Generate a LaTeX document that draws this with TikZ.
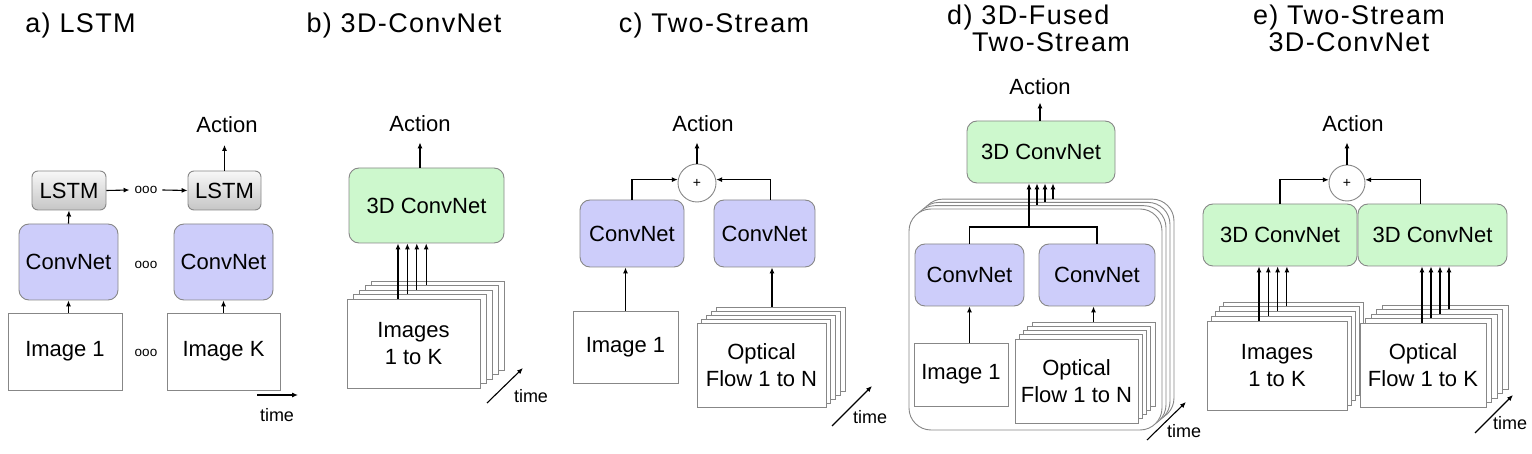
\documentclass[tikz,border=0pt]{standalone}
\usepackage{fontspec}
\setmainfont{Liberation Sans}
\newfontfamily\titlefont{Liberation Sans}[LetterSpace=5]
\usetikzlibrary{positioning,arrows.meta,calc}
\definecolor{netblue}{RGB}{205,205,250}
\definecolor{netgreen}{RGB}{205,248,205}
\definecolor{edgegray}{RGB}{135,135,135}
\tikzset{
    >={Latex[length=6pt,width=5pt]},
    arr/.style = {->, line width=1.1pt},
    paneltitle/.style = {font=\titlefont\fontsize{27}{27.5}\selectfont, anchor=base, inner sep=0pt},
    lbl/.style = {font=\fontsize{22}{27}\selectfont, anchor=base, inner sep=0pt},
    timelbl/.style = {font=\fontsize{18}{20}\selectfont, inner sep=0pt},
    ellip/.style = {font=\fontsize{13.5}{14}\selectfont, inner sep=5pt},
    net/.style = {draw=edgegray, line width=0.9pt, rounded corners=10pt,
                  font=\fontsize{22}{27}\selectfont, align=center},
    convnet/.style = {net, fill=netblue},
    conv3d/.style = {net, fill=netgreen},
    lstm/.style = {net, rounded corners=6pt, top color=gray!6, bottom color=gray!45},
    imgbox/.style = {draw=edgegray, line width=0.9pt, fill=white,
                     font=\fontsize{22}{27}\selectfont, align=center},
    bigbox/.style = {draw=edgegray, line width=0.9pt, fill=white, rounded corners=22pt},
    sumnode/.style = {circle, draw=edgegray, line width=0.9pt, fill=white,
                      minimum size=38pt, inner sep=0pt, font=\fontsize{14}{14}\selectfont},
}
\begin{document}
\begin{tikzpicture}[x=1pt, y=-1pt]
\useasboundingbox (0,0) rectangle (1532,454);

% a) LSTM
\node[paneltitle] (titA) at (80.5,33) {a) LSTM};
\node[imgbox, minimum width=114pt, minimum height=77pt] (imgA) at (65,351.5) {Image 1};
\node[imgbox, minimum width=113pt, minimum height=77pt] (imgK) at (223.5,351.5) {Image K};
\node[convnet, minimum width=99pt, minimum height=76pt] (convA) at (68.5,262) {ConvNet};
\node[convnet, minimum width=99pt, minimum height=76pt] (convK) at (223.5,262) {ConvNet};
\node[lstm, minimum width=74pt, minimum height=39pt] (lstmA) at (69,190.5) {LSTM};
\node[lstm, minimum width=73pt, minimum height=39pt] (lstmK) at (224.5,190.5) {LSTM};
\node[ellip] (dotsI) at (146,353) {ooo};
\node[ellip] (dotsC) at (146,265) {ooo};
\node[ellip] (dotsL) at (146,190) {ooo};
\node[lbl] (actA) at (227,132.5) {Action};
\draw[arr] (convA.south |- imgA.north) -- (convA.south);
\draw[arr] (convK.south |- imgK.north) -- (convK.south);
\draw[arr] (convA.north) -- (lstmA.south);
\draw[arr] (lstmA.east) -- (dotsL.west);
\draw[arr] (dotsL.east) -- (lstmK.west);
\draw[arr, shorten >=12pt] (lstmK.north) -- (lstmK.north |- actA.south);
\coordinate (tA0) at (257,395);
\coordinate (tA1) at (298,395);
\draw[arr] (tA0) -- (tA1);
\node[timelbl] (tAl) at (277,415) {time};

% b) 3D-ConvNet
\node[paneltitle] (titB) at (404,33) {b) 3D-ConvNet};
\node[lbl] (actB) at (420,132) {Action};
\node[conv3d, minimum width=155pt, minimum height=75pt] (conv3B) at (426.5,205.5) {3D ConvNet};
\foreach \i in {4,3,2,1}
    \node[imgbox, minimum width=133pt, minimum height=89pt] (bS\i) at (413.5+6*\i, 343.5-4.5*\i) {};
\node[imgbox, minimum width=133pt, minimum height=89pt] (bS0) at (413.5,343.5) {Images\\1 to K};
\foreach \i in {0,...,3}
    \draw[arr] ([xshift={3.4*\i-15.5}]bS\i.north) coordinate (bT) -- (bT |- conv3B.south);
\draw[arr, shorten >=10pt] (conv3B.north -| actB.south) -- (actB.south);
\coordinate (tB0) at (487,403);
\coordinate (tB1) at (523,368);
\draw[arr] (tB0) -- (tB1);
\node[timelbl] (tBl) at (531,396) {time};

% c) Two-Stream
\node[paneltitle] (titC) at (714,33) {c) Two-Stream};
\node[lbl] (actC) at (703,132) {Action};
\node[sumnode] (sumC) at (697,183) {+};
\node[convnet, minimum width=104pt, minimum height=67pt] (convC1) at (632,233.5) {ConvNet};
\node[convnet, minimum width=101pt, minimum height=67pt] (convC2) at (764.5,233.5) {ConvNet};
\node[imgbox, minimum width=105pt, minimum height=72pt] (imgC) at (625.5,347) {Image 1};
\foreach \i in {4,3,2,1}
    \node[imgbox, minimum width=129pt, minimum height=84pt] (fC\i) at (761.5+4.75*\i, 365-4*\i) {};
\node[imgbox, minimum width=129pt, minimum height=84pt] (fC0) at (761.5,365) {Optical\\Flow 1 to N};
\draw[arr, shorten >=10pt] (sumC.north) -- (sumC.north |- actC.south);
\draw[arr] (convC1.north) |- (sumC.170);
\draw[arr] ([xshift=6pt]convC2.north) |- (sumC.10);
\draw[arr] (imgC.north) -- (imgC.north |- convC1.south);
\draw[arr] ([xshift=-8.5pt]fC4.north) coordinate (cT) -- (cT |- convC2.south);
\coordinate (tC0) at (832,426);
\coordinate (tC1) at (872,386);
\draw[arr] (tC0) -- (tC1);
\node[timelbl] (tCl) at (870,417) {time};

% d) 3D-Fused Two-Stream
\node[paneltitle, align=left, anchor=base west] (titD) at (947,52) {d) 3D-Fused\\\hspace*{25pt}Two-Stream};
\node[lbl] (actD) at (1040,95) {Action};
\node[conv3d, minimum width=148pt, minimum height=62pt] (conv3D) at (1041,152) {3D ConvNet};
\foreach \i in {3,2,1,0}
    \node[bigbox, minimum width=253pt, minimum height=221pt] (dL\i) at (1035.5+4*\i, 319.5-3.3*\i) {};
\node[convnet, minimum width=109pt, minimum height=62pt] (convD1) at (969.5,275) {ConvNet};
\node[convnet, minimum width=116pt, minimum height=62pt] (convD2) at (1097,275) {ConvNet};
\node[imgbox, minimum width=94pt, minimum height=63pt] (imgD) at (961,374.5) {Image 1};
\foreach \i in {4,3,2,1}
    \node[imgbox, minimum width=123pt, minimum height=84pt] (fD\i) at (1076.5+4.25*\i, 381-4.25*\i) {};
\node[imgbox, minimum width=123pt, minimum height=84pt] (fD0) at (1076.5,381) {Optical\\Flow 1 to N};
\coordinate (jD) at (1029,227);
\draw[line width=1.1pt] (convD1.north) |- (jD) -| (convD2.north);
\draw[arr] (jD) -- (jD |- conv3D.south);
\foreach \i in {1,2,3}
    \draw[arr] ([xshift={4*\i-6.5}]dL\i.north) coordinate (dT) -- (dT |- conv3D.south);
\draw[arr, shorten >=7pt] (conv3D.north -| actD.south) -- (actD.south);
\draw[arr] (imgD.north -| convD1.south) -- (convD1.south);
\draw[arr] (fD4.north) -- (fD4.north |- convD2.south);
\coordinate (tD0) at (1147,440);
\coordinate (tD1) at (1186,402);
\draw[arr] (tD0) -- (tD1);
\node[timelbl] (tDl) at (1184,431) {time};

% e) Two-Stream 3D-ConvNet
\node[paneltitle, align=center] (titE) at (1349,52) {e) Two-Stream\\3D-ConvNet};
\node[lbl] (actE) at (1353,132) {Action};
\node[sumnode, minimum size=36pt] (sumE) at (1347,183) {+};
\node[conv3d, minimum width=154pt, minimum height=62pt] (conv3E1) at (1280,235) {3D ConvNet};
\node[conv3d, minimum width=149pt, minimum height=62pt] (conv3E2) at (1432.5,235) {3D ConvNet};
\foreach \i in {4,3,2,1}
    \node[imgbox, minimum width=140pt, minimum height=89pt] (eS\i) at (1277+4*\i, 365.5-4.75*\i) {};
\node[imgbox, minimum width=140pt, minimum height=89pt] (eS0) at (1277,365.5) {Images\\1 to K};
\foreach \i in {4,3,2,1}
    \node[imgbox, minimum width=126pt, minimum height=84pt] (eF\i) at (1423+5.5*\i, 365-4.5*\i) {};
\node[imgbox, minimum width=126pt, minimum height=84pt] (eF0) at (1423,365) {Optical\\Flow 1 to K};
\foreach \i in {0,...,3} {
    \draw[arr] ([xshift={5.3*\i-18}]eS\i.north) coordinate (eT) -- (eT |- conv3E1.south);
    \draw[arr] ([xshift={3.5*\i-1}]eF\i.north) coordinate (eU) -- (eU |- conv3E2.south);
}
\draw[arr, shorten >=10pt] (sumE.north) -- (sumE.north |- actE.south);
\draw[arr] (conv3E1.north) |- (sumE.170);
\draw[arr] ([xshift=-12pt]conv3E2.north) |- (sumE.10);
\coordinate (tE0) at (1475,433);
\coordinate (tE1) at (1513,395);
\draw[arr] (tE0) -- (tE1);
\node[timelbl] (tEl) at (1510,423) {time};
\end{tikzpicture}
\end{document}
